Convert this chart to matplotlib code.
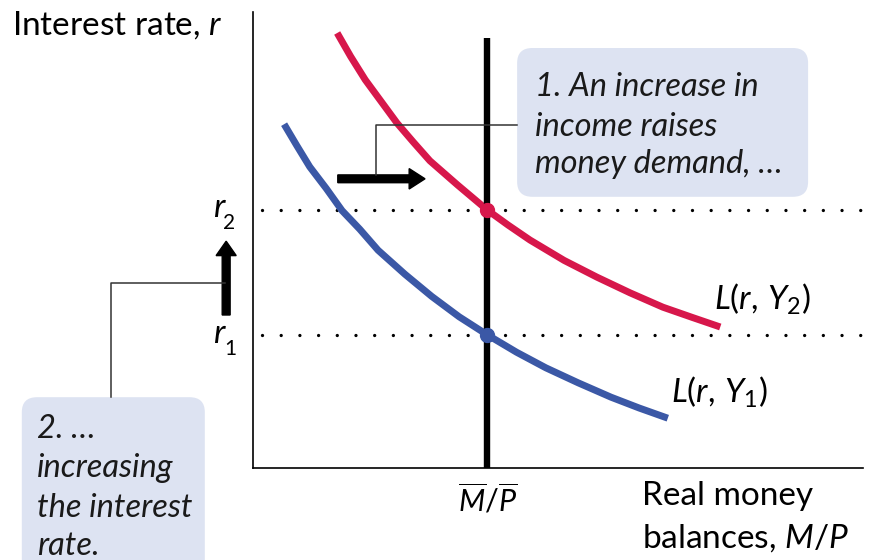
import matplotlib.pyplot as plt
from matplotlib.patches import FancyBboxPatch, FancyArrow

plt.rcParams['font.family'] = ['Lato', 'DejaVu Sans']
plt.rcParams['mathtext.fontset'] = 'custom'
plt.rcParams['mathtext.rm'] = 'Lato'
plt.rcParams['mathtext.it'] = 'Lato:italic'
plt.rcParams['lines.scale_dashes'] = False

# money demand curves: (real balances M/P, interest rate r)
l1_mp = [0.51, 0.72, 0.93, 1.20, 1.46, 1.75, 2.05, 2.49, 2.93, 3.38,
         3.84, 4.32, 4.80, 5.33, 5.87, 6.33, 6.80]
l1_r = [5.73, 5.37, 5.02, 4.66, 4.29, 3.98, 3.63, 3.23, 2.86, 2.52,
        2.22, 1.93, 1.67, 1.42, 1.18, 1.00, 0.83]
l2_mp = [1.38, 1.60, 1.84, 2.10, 2.36, 2.63, 2.90, 3.35, 3.84, 4.18,
         4.54, 5.10, 5.64, 6.18, 6.72, 7.20, 7.66]
l2_r = [7.25, 6.86, 6.47, 6.11, 5.75, 5.43, 5.12, 4.72, 4.30, 4.05,
        3.80, 3.46, 3.18, 2.92, 2.68, 2.51, 2.35]

# fixed supply of real money balances and the two equilibrium rates
mp_supply = 3.84
supply_top = 7.17
r1 = 2.22
r2 = 4.30

red = '#d7174b'
blue = '#3b58a6'
boxc = '#dde3f2'

fig = plt.figure(figsize=(8.69, 5.6), dpi=100)
ax = fig.add_axes([253 / 869, 92 / 560, 610 / 869, 456 / 560])
ax.set_xlim(0, 10)
ax.set_ylim(0, 7.6)
ax.set_xticks([])
ax.set_yticks([])
for s in ['top', 'right']:
    ax.spines[s].set_visible(False)
for s in ['left', 'bottom']:
    ax.spines[s].set_linewidth(1.2)

# dotted guides at r1 and r2 (run past the axis end)
for r in [r1, r2]:
    ax.plot([0.15, 10.1], [r, r], color='black', lw=2.4,
            linestyle=(0, (0.01, 13.45)), dash_capstyle='round', clip_on=False)

# demand curves
ax.plot(l1_mp, l1_r, color=blue, lw=5, solid_capstyle='butt', solid_joinstyle='round')
ax.plot(l2_mp, l2_r, color=red, lw=5, solid_capstyle='butt', solid_joinstyle='round')

# money supply
ax.plot([mp_supply, mp_supply], [0, supply_top], color='black', lw=4.6,
        solid_capstyle='butt')

# equilibrium points
ax.plot([mp_supply], [r2], 'o', color=red, ms=10)
ax.plot([mp_supply], [r1], 'o', color=blue, ms=10)

# shift arrows
ax.add_patch(FancyArrow(1.39, 4.82, 1.43, 0, width=0.13, head_width=0.34,
                        head_length=0.26, length_includes_head=True,
                        color='black', clip_on=False))
ax.add_patch(FancyArrow(-0.44, 2.55, 0, 1.23, width=0.13, head_width=0.33,
                        head_length=0.24, length_includes_head=True,
                        color='black', clip_on=False))

# callout boxes
ax.add_patch(FancyBboxPatch((4.33, 4.52), 4.77, 2.48,
                            boxstyle='round,pad=0,rounding_size=0.25',
                            fc=boxc, ec='none', zorder=0.5, clip_on=False))
ax.add_patch(FancyBboxPatch((-3.79, -2.2), 3.0, 3.38,
                            boxstyle='round,pad=0,rounding_size=0.25',
                            fc=boxc, ec='none', zorder=0.5, clip_on=False))

# connector lines
ax.plot([4.33, 2.02, 2.02], [5.72, 5.72, 4.88], color='#333333', lw=1.1, clip_on=False)
ax.plot([-0.46, -2.33, -2.33], [3.08, 3.08, 1.18], color='#333333', lw=1.1, clip_on=False)

# box texts
box1 = ['1. An increase in', 'income raises', 'money demand, …']
for line, y in zip(box1, [6.2, 5.53, 4.92]):
    ax.text(4.62, y, line, fontsize=23.5, style='italic', va='baseline',
            color='#1a1a1a')
box2 = ['2. …', 'increasing', 'the interest', 'rate.']
for line, y in zip(box2, [0.5, -0.15, -0.82, -1.45]):
    ax.text(-3.54, y, line, fontsize=23.5, style='italic', va='baseline',
            color='#1a1a1a', clip_on=False)

# axis labels
ax.text(-3.95, 7.22, 'Interest rate, $r$', fontsize=24, va='baseline')
ax.text(6.38, -0.62, 'Real money', fontsize=24, va='baseline')
ax.text(6.38, -1.32, 'balances, $M/P$', fontsize=24, va='baseline')
ax.text(mp_supply, -0.73, r'$\overline{M}/\overline{P}$', fontsize=22,
        ha='center', va='baseline')

# rate labels
ax.text(-0.656, 4.18, 'r', fontsize=24, style='italic', va='baseline')
ax.text(-0.49, 3.98, '2', fontsize=15, va='baseline')
ax.text(-0.656, 2.08, 'r', fontsize=24, style='italic', va='baseline')
ax.text(-0.47, 1.88, '1', fontsize=15, va='baseline')

# curve labels
ax.text(7.56, 2.63, r'$L(r,\,Y_2)$', fontsize=24, va='baseline')
ax.text(6.85, 1.09, r'$L(r,\,Y_1)$', fontsize=24, va='baseline')

fig.savefig('out.png', dpi=100)
